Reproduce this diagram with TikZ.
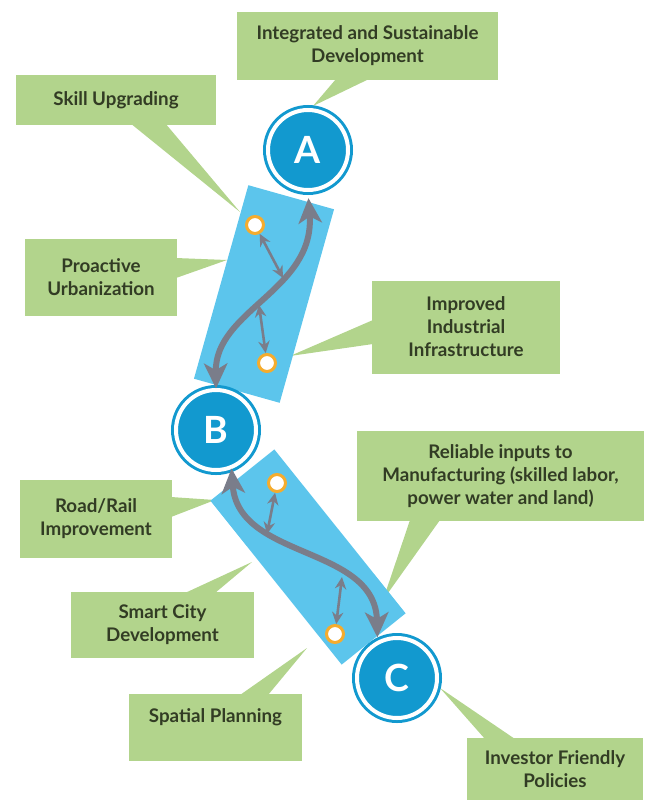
\documentclass[tikz,border=0pt]{standalone}
\usepackage{fontspec}
\setmainfont{Lato}
\usetikzlibrary{arrows.meta}
\definecolor{leaf}{RGB}{178,212,140}
\definecolor{leaftext}{RGB}{50,60,36}
\definecolor{sky}{RGB}{92,197,236}
\definecolor{ocean}{RGB}{18,153,207}
\definecolor{slate}{RGB}{122,125,138}
\definecolor{amber}{RGB}{245,172,45}
\tikzstyle{tag}=[fill=leaf, text=leaftext, align=center, inner sep=0pt, font=\fontsize{16}{19.6}\selectfont\bfseries]
\tikzstyle{tail}=[fill=leaf]
\tikzstyle{band}=[fill=sky, inner sep=0pt]
\tikzstyle{stage}=[circle, inner sep=0pt, minimum size=2.4cm, fill=ocean, draw=ocean, line width=.09cm, double=white, double distance=.12cm, text=white, font=\fontsize{32}{32}\selectfont\bfseries]
\tikzstyle{joint}=[circle, inner sep=0pt, minimum size=.51cm, fill=white, draw=amber, line width=.09cm]
\tikzstyle{flow}=[draw=slate, line width=.18cm, arrows={Stealth[length=.75cm,width=.7cm,inset=.2cm]-Stealth[length=.75cm,width=.7cm,inset=.2cm]}]
\tikzstyle{link}=[draw=slate, line width=2.2pt, arrows={Stealth[length=.36cm,width=.34cm]-Stealth[length=.36cm,width=.34cm]}]

\begin{document}
\begin{tikzpicture}[x=.03cm, y=-.03cm]
    \useasboundingbox (0,0) rectangle (650,807);

    % Tails
    \fill[tail] (336,79) -- (313,106) -- (369,79) -- cycle;
    \fill[tail] (130,123) -- (240,212) -- (165,123) -- cycle;
    \fill[tail] (176,258) -- (227,260) -- (176,278) -- cycle;
    \fill[tail] (373,320) -- (290,356) -- (373,344) -- cycle;
    \fill[tail] (410,520) -- (383,600) -- (440,520) -- cycle;
    \fill[tail] (171,497) -- (215,500) -- (171,517) -- cycle;
    \fill[tail] (185,593) -- (252,562) -- (215,593) -- cycle;
    \fill[tail] (240,695) -- (307,648) -- (268,695) -- cycle;
    \fill[tail] (485,739) -- (440,688) -- (515,739) -- cycle;

    % Labels
    \draw (367.5,46) node[tag, minimum width=7.83cm, minimum height=2.04cm] (integ) {Integrated and Sustainable\\Development};
    \draw (116,100) node[tag, minimum width=6cm, minimum height=1.5cm] (skill) {Skill Upgrading};
    \draw (101,277) node[tag, minimum width=4.56cm, minimum height=2.31cm] (proact) {Proactive\\Urbanization};
    \draw (466,327) node[tag, minimum width=5.64cm, minimum height=2.79cm] (improv) {Improved\\Industrial\\Infrastructure};
    \draw (500.5,476) node[tag, minimum width=8.61cm, minimum height=2.7cm] (reliab) {Reliable inputs to\\Manufacturing (skilled labor,\\power water and land)};
    \draw (96,519) node[tag, minimum width=4.56cm, minimum height=2.34cm] (road) {Road/Rail\\Improvement};
    \draw (162.5,625) node[tag, minimum width=5.49cm, minimum height=1.98cm] (smart) {Smart City\\Development};
    \draw (215.5,727.5) node[tag, minimum width=5.19cm, minimum height=2.01cm] (spatial) {Spatial Planning\\ \mbox{}};
    \draw (555,769) node[tag, minimum width=5.28cm, minimum height=1.86cm] (invest) {Investor Friendly\\Policies};

    % Corridors
    \draw (264,294) node[band, rotate=74.3, minimum width=6.03cm, minimum height=2.67cm] (band1) {};
    \draw (308,557) node[band, rotate=-51.3, minimum width=6.3cm, minimum height=2.46cm] (band2) {};

    % Stages
    \draw (308,150) node[stage] (A) {A};
    \draw (216,430) node[stage] (B) {B};
    \draw (397,678) node[stage] (C) {C};

    % Flows
    \draw[flow, shorten >=.2cm] (B.north) .. controls (215,310) and (315,290) .. (A.south);
    \draw[flow, shorten >=.12cm] (B.-68) .. controls (238,560) and (375,545) .. (C.118);

    % Joints
    \draw (255,225) node[joint] (j1) {};
    \draw (267,363) node[joint] (j2) {};
    \draw (277,483) node[joint] (j3) {};
    \draw (335,634) node[joint] (j4) {};
    \coordinate (c1) at (283,278);
    \coordinate (c2) at (259,305);
    \coordinate (c3) at (267,534);
    \coordinate (c4) at (342,577);
    \draw[link] (j1) -- (c1);
    \draw[link] (c2) -- (j2);
    \draw[link] (j3) -- (c3);
    \draw[link] (c4) -- (j4);

\end{tikzpicture}
\end{document}
